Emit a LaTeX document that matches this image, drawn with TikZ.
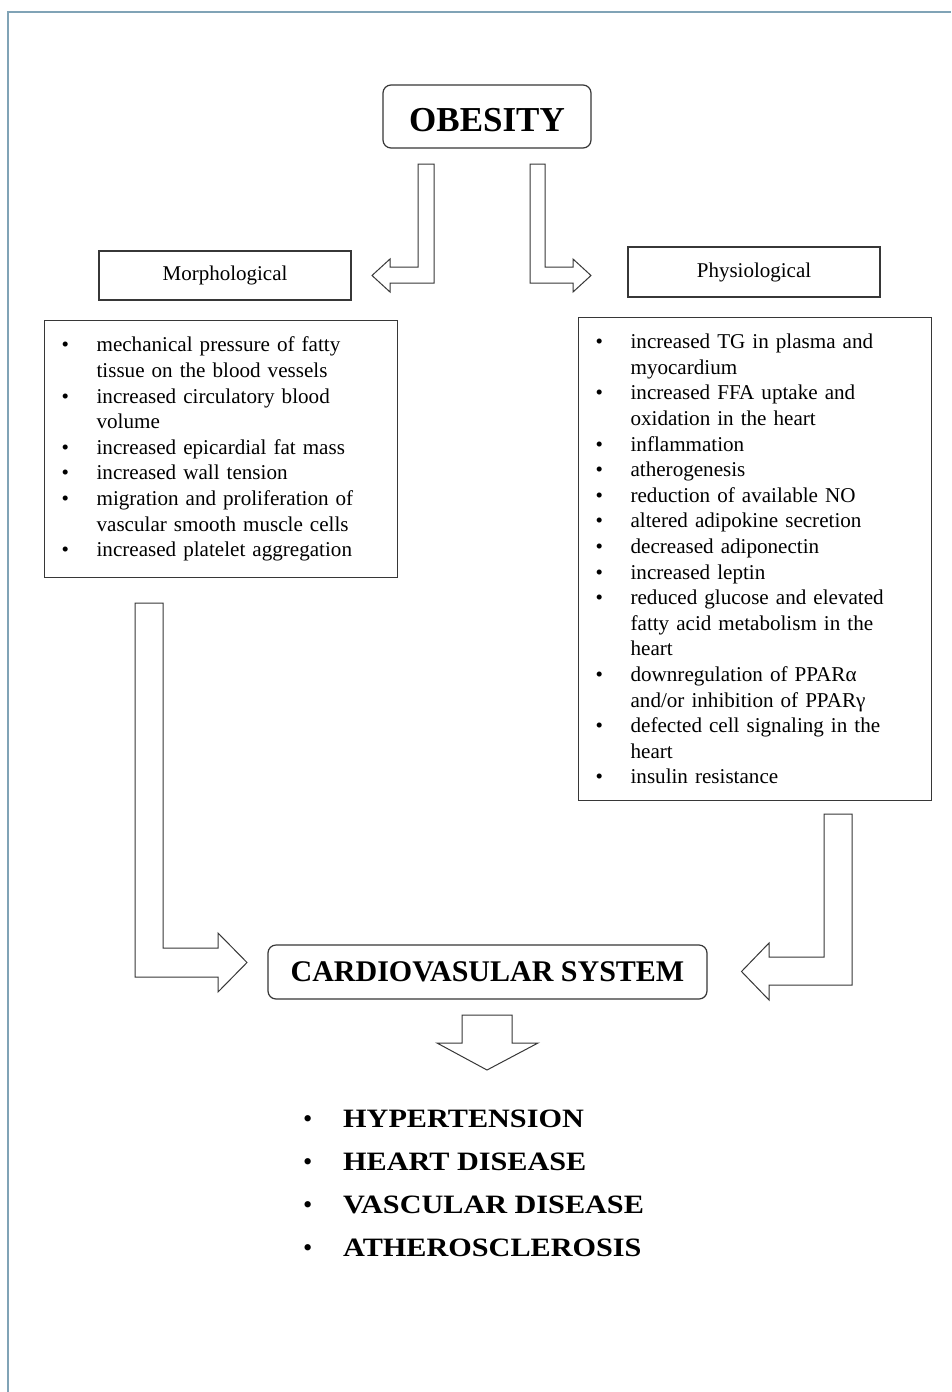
\documentclass[tikz,border=0pt]{standalone}
\usepackage{fontspec}
\setmainfont{Liberation Serif}
\definecolor{framecol}{RGB}{128,163,182}
\definecolor{edgecol}{RGB}{55,55,55}
\newcommand\bl[1]{\makebox[35pt][l]{\textbullet}#1}
\newcommand\cl[1]{\hspace*{35pt}#1}
\newcommand\bigbul[1]{\makebox[40pt][l]{\mdseries\textbullet}\scalebox{1.14}[1]{#1}}
\begin{document}
\begin{tikzpicture}[x=1pt,y=-1pt,
  box/.style={draw=edgecol, line width=1.2pt, inner sep=0pt},
  rbox/.style={box, rounded corners=8pt},
  blockarrow/.style={draw=edgecol, line width=1pt, fill=white, line join=miter},
  listbox/.style={box, anchor=north west, inner xsep=17pt, inner ysep=0pt, text width=319pt, align=left, font=\fontsize{21.1}{25.6}\selectfont},
  label/.style={box, font=\fontsize{21}{25}\selectfont},
  outcome/.style={anchor=base west, inner sep=0pt, font=\bfseries\fontsize{26.5}{30}\selectfont}
]
\useasboundingbox (0,0) rectangle (951,1392);
\fill[white] (0,0) rectangle (951,1392);
% page frame
\draw[framecol, line width=2pt] (7.5,1392) -- (7.5,11.5) -- (951,11.5);

% top node
\node[rbox, minimum width=208pt, minimum height=63pt, text height=29pt, text depth=0pt, font=\bfseries\fontsize{35}{40}\selectfont] (obesity) at (487,116.5) {OBESITY};

% category labels
\node[label, minimum width=252pt, minimum height=49pt] (morph) at (225,275.5) {Morphological};
\node[label, minimum width=252pt, minimum height=50pt] (phys) at (754,272) {Physiological};

% lists
\node[listbox, minimum height=257pt] (mlist) at (44,320) {%
\bl{mechanical pressure of fatty}\\
\cl{tissue on the blood vessels}\\
\bl{increased circulatory blood}\\
\cl{volume}\\
\bl{increased epicardial fat mass}\\
\bl{increased wall tension}\\
\bl{migration and proliferation of}\\
\cl{vascular smooth muscle cells}\\
\bl{increased platelet aggregation}};

\node[listbox, minimum height=483pt] (plist) at (578,317) {%
\bl{increased TG in plasma and}\\
\cl{myocardium}\\
\bl{increased FFA uptake and}\\
\cl{oxidation in the heart}\\
\bl{inflammation}\\
\bl{atherogenesis}\\
\bl{reduction of available NO}\\
\bl{altered adipokine secretion}\\
\bl{decreased adiponectin}\\
\bl{increased leptin}\\
\bl{reduced glucose and elevated}\\
\cl{fatty acid metabolism in the}\\
\cl{heart}\\
\bl{downregulation of PPARα}\\
\cl{and/or inhibition of PPARγ}\\
\bl{defected cell signaling in the}\\
\cl{heart}\\
\bl{insulin resistance}};

% cardiovascular system
\node[rbox, minimum width=439pt, minimum height=54pt, font=\bfseries\fontsize{30}{34}\selectfont] (cvs) at (487.5,972) {CARDIOVASULAR SYSTEM};

% outcomes
\node[outcome] (o1) at (303,1127) {\bigbul{HYPERTENSION}};
\node[outcome] (o2) at (303,1170) {\bigbul{HEART DISEASE}};
\node[outcome] (o3) at (303,1213) {\bigbul{VASCULAR DISEASE}};
\node[outcome] (o4) at (303,1256) {\bigbul{ATHEROSCLEROSIS}};

% block arrows
% obesity -> morphological
\draw[blockarrow] (418,164) -- (434,164) -- (434,283) -- (390,283) -- (390,292) -- (372,275.5) -- (390,259) -- (390,267) -- (418,267) -- cycle;
% obesity -> physiological
\draw[blockarrow] (530,164) -- (545,164) -- (545,267) -- (573,267) -- (573,259) -- (591,275.5) -- (573,292) -- (573,283) -- (530,283) -- cycle;
% morphological -> cvs
\draw[blockarrow] (135,603) -- (163,603) -- (163,948) -- (218,948) -- (218,933) -- (247,962.5) -- (218,992) -- (218,977) -- (135,977) -- cycle;
% physiological -> cvs
\draw[blockarrow] (824,814) -- (852,814) -- (852,985) -- (769,985) -- (769,1000) -- (741.5,971.5) -- (769,943) -- (769,957) -- (824,957) -- cycle;
% cvs -> outcomes
\draw[blockarrow] (462,1015) -- (512,1015) -- (512,1043) -- (538,1043) -- (487,1070) -- (437,1043) -- (462,1043) -- cycle;
\end{tikzpicture}
\end{document}
